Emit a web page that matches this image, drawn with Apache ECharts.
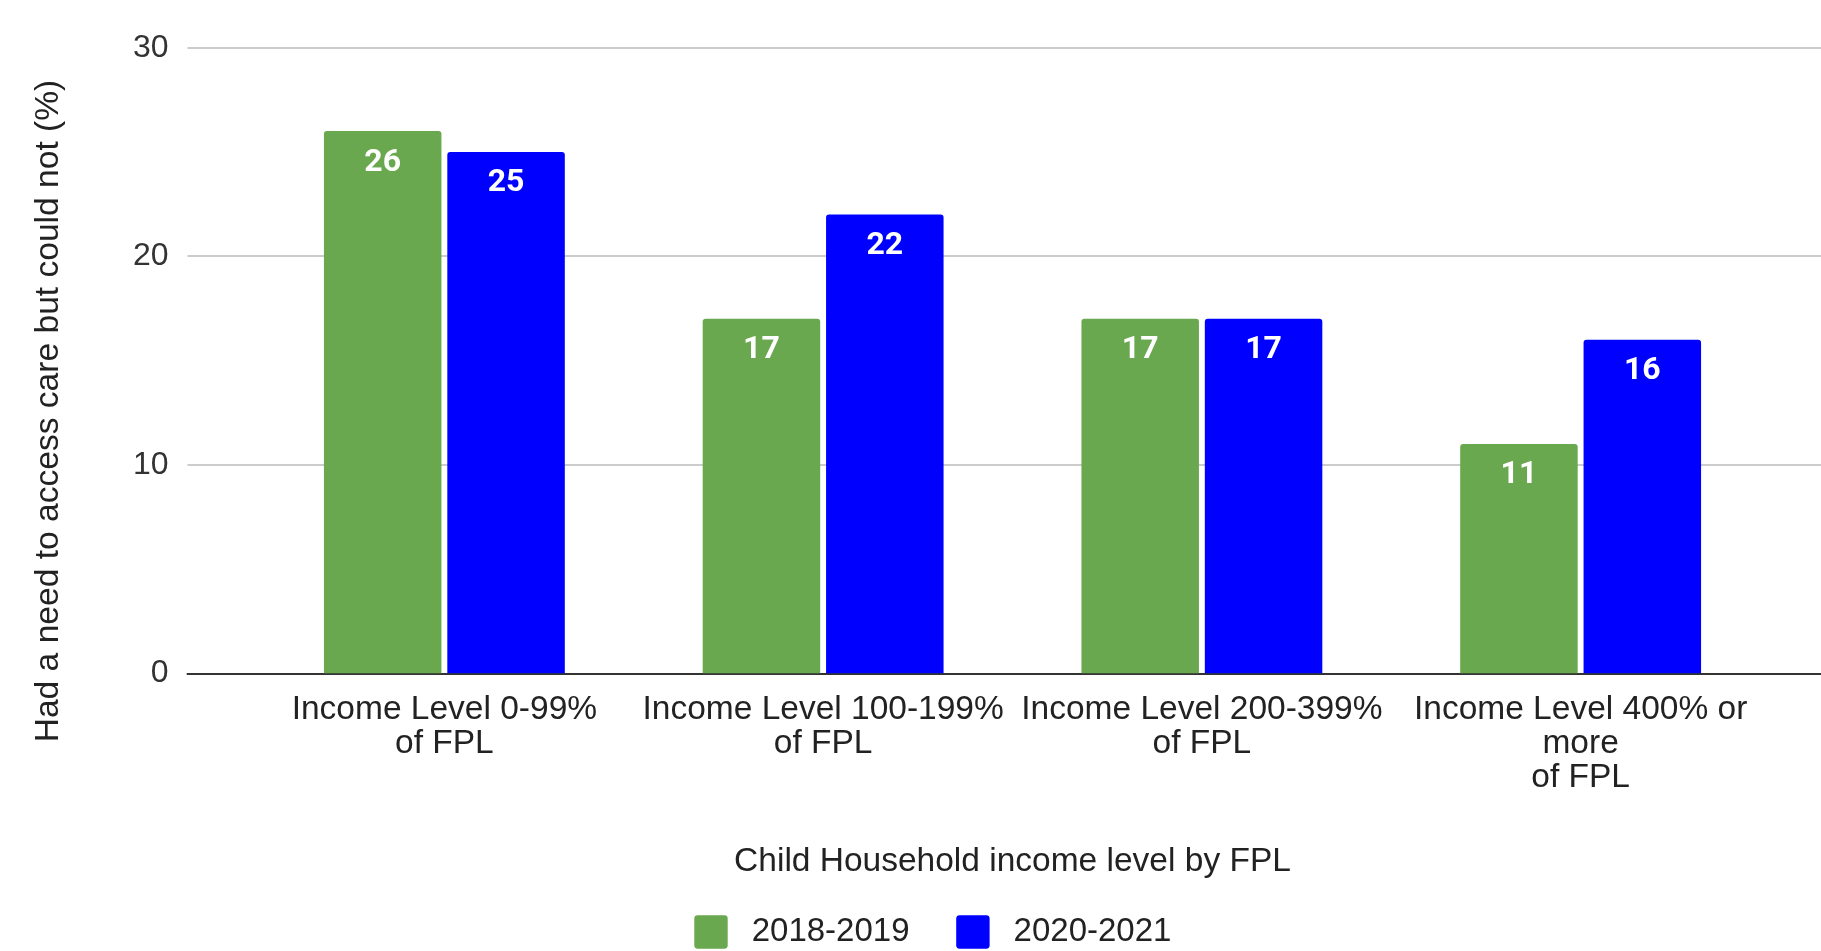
<!DOCTYPE html>
<html>
<head>
<meta charset="utf-8">
<script src="https://cdn.jsdelivr.net/npm/echarts@6/dist/echarts.min.js"></script>
<style>
html,body{margin:0;padding:0;background:#fff;}
#chart{width:1821px;height:951px;}
</style>
</head>
<body>
<div id="chart"></div>
<script>
const categories = [
  "Income Level 0-99%\nof FPL",
  "Income Level 100-199%\nof FPL",
  "Income Level 200-399%\nof FPL",
  "Income Level 400% or\nmore\nof FPL"
];
const seriesNames = ["2018-2019", "2020-2021"];
const values2018_2019 = [26, 17, 17, 11];
const values2020_2021 = [25, 22, 17, 16];
const yTicks = { min: 0, max: 30, interval: 10 };
const xTitle = "Child Household income level by FPL";
const yTitle = "Had a need to access care but could not (%)";

const FONT = "'Liberation Sans', Arial, sans-serif";
const chart = echarts.init(document.getElementById('chart'));

const labelStyle = {
  show: true,
  position: 'insideTop',
  distance: 15.5,
  color: '#fff',
  fontFamily: "Roboto, sans-serif",
  fontWeight: 'bold',
  fontSize: 32
};

chart.setOption({
  animation: false,
  backgroundColor: '#fff',
  grid: [
    { left: 187.5, right: 0, top: 47.7, bottom: 277.7 },
    { left: 255, right: 51, top: 47.7, bottom: 277.7 }
  ],
  xAxis: [
    {
      gridIndex: 0, type: 'category', data: [''],
      axisLine: { show: true, lineStyle: { color: '#333', width: 2 } },
      axisTick: { show: false }, axisLabel: { show: false }, splitLine: { show: false }
    },
    {
      gridIndex: 1, type: 'category', data: categories,
      axisLine: { show: false }, axisTick: { show: false },
      axisLabel: {
        interval: 0, margin: 19, color: '#222', fontFamily: FONT, fontSize: 33.5, lineHeight: 34
      },
      name: xTitle, nameLocation: 'middle', nameGap: 171,
      nameTextStyle: { color: '#222', fontFamily: FONT, fontSize: 33.5 }
    }
  ],
  yAxis: [
    {
      gridIndex: 0, type: 'value', min: yTicks.min, max: yTicks.max, interval: yTicks.interval,
      axisLine: { show: false }, axisTick: { show: false },
      axisLabel: { margin: 19, color: '#333', fontFamily: FONT, fontSize: 32 },
      splitLine: { show: true, lineStyle: { color: '#ccc', width: 2 } }
    },
    {
      gridIndex: 1, type: 'value', min: yTicks.min, max: yTicks.max, interval: yTicks.interval,
      show: false
    }
  ],
  legend: {
    data: seriesNames,
    left: 694.3, top: 915, padding: 0,
    itemWidth: 33.4, itemHeight: 34, itemGap: 46.7,
    icon: 'path://M1,0 H9 Q10,0 10,1 V9 Q10,10 9,10 H1 Q0,10 0,9 V1 Q0,0 1,0 Z',
    textStyle: { color: '#222', fontFamily: FONT, fontSize: 33, lineHeight: 34, padding: [0, 0, 0, 19] }
  },
  graphic: [
    {
      type: 'text', x: 48.5, y: 411, rotation: Math.PI / 2,
      style: {
        text: yTitle, fill: '#222', font: "33.6px 'Liberation Sans', Arial, sans-serif",
        align: 'center', verticalAlign: 'middle'
      }
    }
  ],
  series: [
    {
      name: seriesNames[0], type: 'bar', xAxisIndex: 1, yAxisIndex: 1,
      data: values2018_2019, barWidth: 117.5, barGap: '5%',
      itemStyle: { color: '#6aa84f', borderRadius: [3, 3, 0, 0] },
      label: labelStyle
    },
    {
      name: seriesNames[1], type: 'bar', xAxisIndex: 1, yAxisIndex: 1,
      data: values2020_2021, barWidth: 117.5, barGap: '5%',
      itemStyle: { color: '#0000ff', borderRadius: [3, 3, 0, 0] },
      label: labelStyle
    }
  ]
});
</script>
</body>
</html>
